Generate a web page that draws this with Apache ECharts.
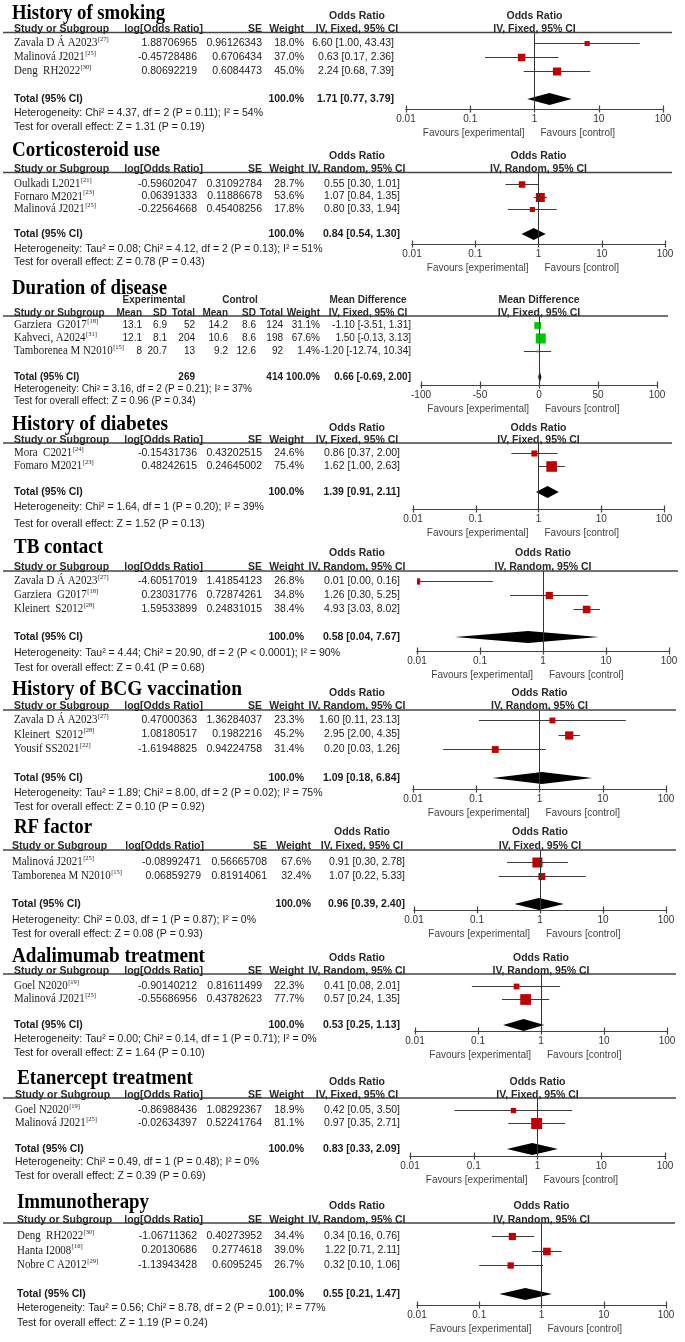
<!DOCTYPE html>
<html><head><meta charset="utf-8">
<script src="https://cdn.jsdelivr.net/npm/echarts@6/dist/echarts.min.js"></script>
<style>html,body{margin:0;padding:0;background:#fff}#c{width:685px;height:1342px}</style>
</head><body><div id="c"></div>
<script>
// ---------- DATA ----------
const smokingStudies = ['Zavala D Á A2023', 'Malinová J2021', 'Deng  RH2022'];
const smokingRefs = ['27', '25', '30'];
const smokingLogOR = [1.88706965, -0.45728486, 0.80692219];
const smokingSE = [0.96126343, 0.6706434, 0.6084473];
const smokingWeight = [18.0, 37.0, 45.0];
const smokingOR = [6.60, 0.63, 2.24];
const smokingLo = [1.00, 0.17, 0.68];
const smokingHi = [43.43, 2.36, 7.39];
const smokingTotal = [1.71, 0.77, 3.79];
const smokingHet = 'Heterogeneity: Chi² = 4.37, df = 2 (P = 0.11); I² = 54%';
const smokingTest = 'Test for overall effect: Z = 1.31 (P = 0.19)';

const corticoStudies = ['Oulkadi L2021', 'Fornaro M2021', 'Malinová J2021'];
const corticoRefs = ['21', '23', '25'];
const corticoLogOR = [-0.59602047, 0.06391333, -0.22564668];
const corticoSE = [0.31092784, 0.11886678, 0.45408256];
const corticoWeight = [28.7, 53.6, 17.8];
const corticoOR = [0.55, 1.07, 0.80];
const corticoLo = [0.30, 0.84, 0.33];
const corticoHi = [1.01, 1.35, 1.94];
const corticoTotal = [0.84, 0.54, 1.30];
const corticoHet = 'Heterogeneity: Tau² = 0.08; Chi² = 4.12, df = 2 (P = 0.13); I² = 51%';
const corticoTest = 'Test for overall effect: Z = 0.78 (P = 0.43)';

const durationStudies = ['Garziera  G2017', 'Kahveci, A2024', 'Tamborenea M N2010'];
const durationRefs = ['18', '31', '15'];
const durationExpMean = [13.1, 12.1, 8];
const durationExpSD = [6.9, 8.1, 20.7];
const durationExpN = [52, 204, 13];
const durationCtlMean = [14.2, 10.6, 9.2];
const durationCtlSD = [8.6, 8.6, 12.6];
const durationCtlN = [124, 198, 92];
const durationWeight = [31.1, 67.6, 1.4];
const durationMD = [-1.10, 1.50, -1.20];
const durationLo = [-3.51, -0.13, -12.74];
const durationHi = [1.31, 3.13, 10.34];
const durationTotal = [0.66, -0.69, 2.00];
const durationTotalN = [269, 414];
const durationHet = 'Heterogeneity: Chi² = 3.16, df = 2 (P = 0.21); I² = 37%';
const durationTest = 'Test for overall effect: Z = 0.96 (P = 0.34)';
const durationTicks = [-100, -50, 0, 50, 100];

const diabetesStudies = ['Mora  C2021', 'Fomaro M2021'];
const diabetesRefs = ['24', '23'];
const diabetesLogOR = [-0.15431736, 0.48242615];
const diabetesSE = [0.43202515, 0.24645002];
const diabetesWeight = [24.6, 75.4];
const diabetesOR = [0.86, 1.62];
const diabetesLo = [0.37, 1.00];
const diabetesHi = [2.00, 2.63];
const diabetesTotal = [1.39, 0.91, 2.11];
const diabetesHet = 'Heterogeneity: Chi² = 1.64, df = 1 (P = 0.20); I² = 39%';
const diabetesTest = 'Test for overall effect: Z = 1.52 (P = 0.13)';

const tbStudies = ['Zavala D Á A2023', 'Garziera  G2017', 'Kleinert  S2012'];
const tbRefs = ['27', '18', '28'];
const tbLogOR = [-4.60517019, 0.23031776, 1.59533899];
const tbSE = [1.41854123, 0.72874261, 0.24831015];
const tbWeight = [26.8, 34.8, 38.4];
const tbOR = [0.01, 1.26, 4.93];
const tbLo = [0.0006, 0.30, 3.03];
const tbHi = [0.16, 5.25, 8.02];
const tbTotal = [0.58, 0.04, 7.67];
const tbHet = 'Heterogeneity: Tau² = 4.44; Chi² = 20.90, df = 2 (P < 0.0001); I² = 90%';
const tbTest = 'Test for overall effect: Z = 0.41 (P = 0.68)';

const bcgStudies = ['Zavala D Á A2023', 'Kleinert  S2012', 'Yousif SS2021'];
const bcgRefs = ['27', '28', '22'];
const bcgLogOR = [0.47000363, 1.08180517, -1.61948825];
const bcgSE = [1.36284037, 0.1982216, 0.94224758];
const bcgWeight = [23.3, 45.2, 31.4];
const bcgOR = [1.60, 2.95, 0.20];
const bcgLo = [0.11, 2.00, 0.03];
const bcgHi = [23.13, 4.35, 1.26];
const bcgTotal = [1.09, 0.18, 6.84];
const bcgHet = 'Heterogeneity: Tau² = 1.89; Chi² = 8.00, df = 2 (P = 0.02); I² = 75%';
const bcgTest = 'Test for overall effect: Z = 0.10 (P = 0.92)';

const rfStudies = ['Malinová J2021', 'Tamborenea M N2010'];
const rfRefs = ['25', '15'];
const rfLogOR = [-0.08992471, 0.06859279];
const rfSE = [0.56665708, 0.81914061];
const rfWeight = [67.6, 32.4];
const rfOR = [0.91, 1.07];
const rfLo = [0.30, 0.22];
const rfHi = [2.78, 5.33];
const rfTotal = [0.96, 0.39, 2.40];
const rfHet = 'Heterogeneity: Chi² = 0.03, df = 1 (P = 0.87); I² = 0%';
const rfTest = 'Test for overall effect: Z = 0.08 (P = 0.93)';

const adaStudies = ['Goel N2020', 'Malinová J2021'];
const adaRefs = ['19', '25'];
const adaLogOR = [-0.90140212, -0.55686956];
const adaSE = [0.81611499, 0.43782623];
const adaWeight = [22.3, 77.7];
const adaOR = [0.41, 0.57];
const adaLo = [0.08, 0.24];
const adaHi = [2.01, 1.35];
const adaTotal = [0.53, 0.25, 1.13];
const adaHet = 'Heterogeneity: Tau² = 0.00; Chi² = 0.14, df = 1 (P = 0.71); I² = 0%';
const adaTest = 'Test for overall effect: Z = 1.64 (P = 0.10)';

const etaStudies = ['Goel N2020', 'Malinová J2021'];
const etaRefs = ['19', '25'];
const etaLogOR = [-0.86988436, -0.02634397];
const etaSE = [1.08292367, 0.52241764];
const etaWeight = [18.9, 81.1];
const etaOR = [0.42, 0.97];
const etaLo = [0.05, 0.35];
const etaHi = [3.50, 2.71];
const etaTotal = [0.83, 0.33, 2.09];
const etaHet = 'Heterogeneity: Chi² = 0.49, df = 1 (P = 0.48); I² = 0%';
const etaTest = 'Test for overall effect: Z = 0.39 (P = 0.69)';

const immStudies = ['Deng  RH2022', 'Hanta I2008', 'Nobre C A2012'];
const immRefs = ['30', '16', '29'];
const immLogOR = [-1.06711362, 0.20130686, -1.13943428];
const immSE = [0.40273952, 0.2774618, 0.6095245];
const immWeight = [34.4, 39.0, 26.7];
const immOR = [0.34, 1.22, 0.32];
const immLo = [0.16, 0.71, 0.10];
const immHi = [0.76, 2.11, 1.06];
const immTotal = [0.55, 0.21, 1.47];
const immHet = 'Heterogeneity: Tau² = 0.56; Chi² = 8.78, df = 2 (P = 0.01); I² = 77%';
const immTest = 'Test for overall effect: Z = 1.19 (P = 0.24)';

const orTicks = [0.01, 0.1, 1, 10, 100];

// ---------- PANELS ----------
const panels = [
  {kind:'or', title:'History of smoking', studies:smokingStudies, refs:smokingRefs, a:smokingLogOR, b:smokingSE, weight:smokingWeight, est:smokingOR, lo:smokingLo, hi:smokingHi, total:smokingTotal, method:'IV, Fixed, 95% CI', het:smokingHet, test:smokingTest},
  {kind:'or', title:'Corticosteroid use', studies:corticoStudies, refs:corticoRefs, a:corticoLogOR, b:corticoSE, weight:corticoWeight, est:corticoOR, lo:corticoLo, hi:corticoHi, total:corticoTotal, method:'IV, Random, 95% CI', het:corticoHet, test:corticoTest},
  {kind:'md', title:'Duration of disease', studies:durationStudies, refs:durationRefs, weight:durationWeight, est:durationMD, lo:durationLo, hi:durationHi, total:durationTotal, method:'IV, Fixed, 95% CI', het:durationHet, test:durationTest},
  {kind:'or', title:'History of diabetes', studies:diabetesStudies, refs:diabetesRefs, a:diabetesLogOR, b:diabetesSE, weight:diabetesWeight, est:diabetesOR, lo:diabetesLo, hi:diabetesHi, total:diabetesTotal, method:'IV, Fixed, 95% CI', het:diabetesHet, test:diabetesTest},
  {kind:'or', title:'TB contact', studies:tbStudies, refs:tbRefs, a:tbLogOR, b:tbSE, weight:tbWeight, est:tbOR, lo:tbLo, hi:tbHi, total:tbTotal, method:'IV, Random, 95% CI', het:tbHet, test:tbTest},
  {kind:'or', title:'History of BCG vaccination', studies:bcgStudies, refs:bcgRefs, a:bcgLogOR, b:bcgSE, weight:bcgWeight, est:bcgOR, lo:bcgLo, hi:bcgHi, total:bcgTotal, method:'IV, Random, 95% CI', het:bcgHet, test:bcgTest},
  {kind:'or', title:'RF factor', studies:rfStudies, refs:rfRefs, a:rfLogOR, b:rfSE, weight:rfWeight, est:rfOR, lo:rfLo, hi:rfHi, total:rfTotal, method:'IV, Fixed, 95% CI', het:rfHet, test:rfTest},
  {kind:'or', title:'Adalimumab treatment', studies:adaStudies, refs:adaRefs, a:adaLogOR, b:adaSE, weight:adaWeight, est:adaOR, lo:adaLo, hi:adaHi, total:adaTotal, method:'IV, Random, 95% CI', het:adaHet, test:adaTest},
  {kind:'or', title:'Etanercept treatment', studies:etaStudies, refs:etaRefs, a:etaLogOR, b:etaSE, weight:etaWeight, est:etaOR, lo:etaLo, hi:etaHi, total:etaTotal, method:'IV, Fixed, 95% CI', het:etaHet, test:etaTest},
  {kind:'or', title:'Immunotherapy', studies:immStudies, refs:immRefs, a:immLogOR, b:immSE, weight:immWeight, est:immOR, lo:immLo, hi:immHi, total:immTotal, method:'IV, Random, 95% CI', het:immHet, test:immTest}
];

// ---------- LAYOUT (pixel positions) ----------
const layouts = [
  {title:13,  tx:12, tw:153, oh:16,   h:29,   line:32.5, lr:672, r0:43,   step:14,   het:113,  test:127,  axis:109,  x0:406, x1:663, nx:14},
  {title:150, tx:12, tw:148, oh:156,  h:169,  line:172.5,lr:672, r0:184,  step:12.5, het:249,  test:262,  axis:244,  x0:412, x1:665, nx:14},
  {title:288, tx:12, tw:155, oh:300,  h:313,  line:316,  lr:668, r0:325,  step:13,   het:389,  test:401,  axis:385,  x0:421, x1:657, nx:14},
  {title:424, tx:12, tw:156, oh:428,  h:440,  line:443,  lr:672, r0:453,  step:13,   het:507,  test:524,  axis:509,  x0:413, x1:664, nx:14},
  {title:547, tx:14, tw:89,  oh:553,  h:567,  line:571,  lr:678, r0:581,  step:14,   het:653,  test:668,  axis:651,  x0:417, x1:669, nx:14},
  {title:689, tx:12, tw:230, oh:693,  h:706,  line:710,  lr:676, r0:720,  step:14.5, het:793,  test:807,  axis:789,  x0:413, x1:666, nx:14},
  {title:827, tx:14, tw:78,  oh:832,  h:846,  line:850,  lr:676, r0:862,  step:14,   het:920,  test:934,  axis:910,  x0:414, x1:666, nx:12},
  {title:956, tx:12, tw:193, oh:958,  h:971,  line:974,  lr:676, r0:986,  step:13,   het:1039, test:1053, axis:1031, x0:415, x1:667, nx:14},
  {title:1078,tx:17, tw:176, oh:1082, h:1095, line:1098, lr:676, r0:1110, step:13,   het:1162, test:1176, axis:1156, x0:410, x1:665, nx:15},
  {title:1202,tx:17, tw:132, oh:1206, h:1220, line:1223, lr:675, r0:1236, step:14.5, het:1308, test:1323, axis:1305, x0:417, x1:666, nx:17}
];
const orCols = {c1:197, c1h:203, c2:262, c3:304, c4r:400, c4c:357};
const rfCols = {c1:201, c1h:204, c2:267, c3:311, c4r:405, c4c:362};
const mdCols = {m1:142, s1:167, n1:195, m2:228, s2:256, n2:283, w:320, ci:411, cic:368, expc:154, ctlc:240};

// ---------- HELPERS ----------
const W = 685;
const SANS = '"Liberation Sans", Arial, sans-serif';
const SERIF = '"Liberation Serif", "Times New Roman", serif';
const mctx = document.createElement('canvas').getContext('2d');
function measure(text, font) { mctx.font = font; return mctx.measureText(text).width; }
const g = [];
function addText(x, y, text, o) {
  o = o || {};
  const fs = o.fs || 10.5, fw = o.fw || 'normal', ff = o.ff || SANS;
  let sx = o.sx || 1;
  if (o.fitW) sx = o.fitW / measure(text, fw + ' ' + fs + 'px ' + ff);
  g.push({type:'text', x:x, y:y, scaleX:sx, silent:true, z:10,
    style:{text:text, fontFamily:ff, fontSize:fs, fontWeight:fw, fill:o.c || '#1a1a1a', align:o.al || 'left', verticalAlign:'middle'}});
  return measure(text, fw + ' ' + fs + 'px ' + ff) * sx;
}
function addLine(x1, y, x2, w, c) {
  g.push({type:'line', silent:true, z:9, shape:{x1:x1, y1:y, x2:x2, y2:y}, style:{stroke:c || '#444', lineWidth:w || 1.4}});
}
const f2 = v => v.toFixed(2);
const ciText = (e, l, h) => f2(e) + ' [' + f2(l) + ', ' + f2(h) + ']';
const pct = v => v.toFixed(1) + '%';

// ---------- TEXT ----------
panels.forEach((p, i) => {
  const L = layouts[i];
  const n = p.studies.length;
  const rowY = k => L.r0 + k * L.step;
  const totY = L.r0 + (n + 1) * L.step;
  addText(L.tx, L.title, p.title, {ff:SERIF, fs:22, fw:'bold', c:'#000', fitW:L.tw});
  const hb = {fw:'bold', fs:10.5, c:'#2a2a2a'};
  if (p.kind === 'or') {
    const C = (i === 6) ? rfCols : orCols;
    addText(C.c4c, L.oh, 'Odds Ratio', Object.assign({al:'center'}, hb));
    addText(L.nx, L.h, 'Study or Subgroup', hb);
    addText(C.c1h, L.h, 'log[Odds Ratio]', Object.assign({al:'right'}, hb));
    addText(C.c2, L.h, 'SE', Object.assign({al:'right'}, hb));
    addText(C.c3, L.h, 'Weight', Object.assign({al:'right'}, hb));
    addText(C.c4c, L.h, p.method, Object.assign({al:'center'}, hb));
    const c4r = (i === 0) ? 394 : C.c4r;
    p.studies.forEach((s, k) => {
      const y = rowY(k);
      addText(C.c1, y, String(p.a[k]), {al:'right'});
      addText(C.c2, y, String(p.b[k]), {al:'right'});
      addText(C.c3, y, pct(p.weight[k]), {al:'right'});
      addText(c4r, y, ciText(p.est[k], p.lo[k], p.hi[k]), {al:'right'});
    });
    addText(C.c3, totY, '100.0%', {al:'right', fw:'bold'});
    addText(c4r, totY, ciText(p.total[0], p.total[1], p.total[2]), {al:'right', fw:'bold'});
  } else {
    const C = mdCols;
    const hs = {fw:'bold', fs:10, c:'#2a2a2a'};
    addText(C.expc, L.oh, 'Experimental', Object.assign({al:'center'}, hs));
    addText(C.ctlc, L.oh, 'Control', Object.assign({al:'center'}, hs));
    addText(C.cic, L.oh, 'Mean Difference', Object.assign({al:'center'}, hs));
    addText(L.nx, L.h, 'Study or Subgroup', hs);
    [['Mean', C.m1], ['SD', C.s1], ['Total', C.n1], ['Mean', C.m2], ['SD', C.s2], ['Total', C.n2], ['Weight', C.w]].forEach(t => addText(t[1], L.h, t[0], Object.assign({al:'right'}, hs)));
    addText(C.cic, L.h, p.method, Object.assign({al:'center'}, hs));
    p.studies.forEach((s, k) => {
      const y = rowY(k);
      const o = {al:'right', fs:10};
      addText(C.m1, y, String(durationExpMean[k]), o);
      addText(C.s1, y, String(durationExpSD[k]), o);
      addText(C.n1, y, String(durationExpN[k]), o);
      addText(C.m2, y, String(durationCtlMean[k]), o);
      addText(C.s2, y, String(durationCtlSD[k]), o);
      addText(C.n2, y, String(durationCtlN[k]), o);
      addText(C.w, y, pct(p.weight[k]), o);
      addText(C.ci, y, ciText(p.est[k], p.lo[k], p.hi[k]), o);
    });
    const ob = {al:'right', fw:'bold', fs:10};
    addText(C.n1, totY, String(durationTotalN[0]), ob);
    addText(C.n2, totY, String(durationTotalN[1]), ob);
    addText(C.w, totY, '100.0%', ob);
    addText(C.ci, totY, ciText(p.total[0], p.total[1], p.total[2]), ob);
  }
  // study names with superscript references
  p.studies.forEach((s, k) => {
    const y = rowY(k);
    const w = addText(L.nx, y, s, {ff:SERIF, fs:13, sx:0.84, c:'#1a1a1a'});
    addText(L.nx + w + 0.5, y - 4, '[' + p.refs[k] + ']', {ff:SERIF, fs:6.5, c:'#1a1a1a'});
  });
  const small = p.kind === 'md' ? 10 : 10.5;
  addText(L.nx, totY, 'Total (95% CI)', {fw:'bold', fs:small});
  addText(L.nx, L.het, p.het, {fs:small});
  addText(L.nx, L.test, p.test, {fs:small});
  // plot headers & favours
  const pc = (L.x0 + L.x1) / 2;
  addText(pc, L.oh, p.kind === 'or' ? 'Odds Ratio' : 'Mean Difference', Object.assign({al:'center'}, hb));
  addText(pc, L.h, p.method, Object.assign({al:'center'}, hb));
  addText(pc - 10, L.axis + 24, 'Favours [experimental]', {al:'right', fs:10, c:'#444'});
  addText(pc + 6, L.axis + 24, 'Favours [control]', {fs:10, c:'#444'});
  addLine(3, L.line, L.lr, 1.5, '#444');
});

// ---------- CHART ----------
function studyRenderer(color) {
  return function (params, api) {
    const est = api.value(0), lo = api.value(1), hi = api.value(2), row = api.value(3), w = api.value(4);
    const pe = api.coord([est, row]), pl = api.coord([lo, row]), ph = api.coord([hi, row]);
    const s = Math.max(2, 1.22 * Math.sqrt(w));
    const yc = Math.round(pe[1]) + 0.5;
    return {type:'group', children:[
      {type:'line', shape:{x1:pl[0], y1:yc, x2:ph[0], y2:yc}, style:{stroke:'#3a3a3a', lineWidth:1}},
      {type:'rect', shape:{x:pe[0] - s / 2, y:yc - s / 2, width:s, height:s}, style:{fill:color}}
    ]};
  };
}
function diamondRenderer(params, api) {
  const est = api.value(0), lo = api.value(1), hi = api.value(2), row = api.value(3);
  const pe = api.coord([est, row]), pl = api.coord([lo, row]), ph = api.coord([hi, row]);
  const h = 6;
  return {type:'polygon', shape:{points:[[pl[0], pe[1]], [pe[0], pe[1] - h], [ph[0], pe[1]], [pe[0], pe[1] + h]]}, style:{fill:'#000'}};
}
const tickFmt = v => v < 1 ? String(Number(v.toPrecision(1))) : String(Math.round(v));

const grids = [], xAxes = [], yAxes = [], series = [];
panels.forEach((p, i) => {
  const L = layouts[i];
  const n = p.studies.length;
  grids.push({left:L.x0, right:W - L.x1, top:L.line, height:L.axis - L.line, containLabel:false});
  const isOR = p.kind === 'or';
  const base = isOR
    ? {type:'log', logBase:10, min:orTicks[0], max:orTicks[orTicks.length - 1]}
    : {type:'value', min:durationTicks[0], max:durationTicks[durationTicks.length - 1], interval:durationTicks[1] - durationTicks[0]};
  const ax = {color:'#444', width:1.2};
  xAxes.push(Object.assign({gridIndex:i, position:'bottom',
    axisLine:{show:true, onZero:false, lineStyle:ax}, axisTick:{show:true, length:3.5, lineStyle:ax},
    axisLabel:{show:true, fontSize:10, color:'#333', fontFamily:SANS, margin:5, showMinLabel:true, showMaxLabel:true, formatter: isOR ? tickFmt : undefined},
    splitLine:{show:false}}, base));
  xAxes.push(Object.assign({gridIndex:i, position:'bottom',
    axisLine:{show:true, onZero:false, lineStyle:ax}, axisTick:{show:true, inside:true, length:3.5, lineStyle:ax},
    axisLabel:{show:false}, splitLine:{show:false}}, base));
  yAxes.push({gridIndex:i, type:'value', inverse:true, show:false,
    min:-(L.r0 - L.line) / L.step, max:(L.axis - L.r0) / L.step});
  series.push({
    type:'custom', xAxisIndex:2 * i, yAxisIndex:i, clip:true, silent:true,
    renderItem: studyRenderer(isOR ? '#c00000' : '#00c800'),
    encode:{x:[0, 1, 2], y:3},
    data: p.est.map((v, k) => [v, p.lo[k], p.hi[k], k, p.weight[k]]),
    markLine:{silent:true, symbol:['none', 'none'], label:{show:false}, animation:false,
      lineStyle:{color:'#333', width:1, type:'solid'}, data:[{xAxis: isOR ? 1 : 0}]}
  });
  series.push({
    type:'custom', xAxisIndex:2 * i, yAxisIndex:i, silent:true,
    renderItem: diamondRenderer, encode:{x:[0, 1, 2], y:3},
    data:[[p.total[0], p.total[1], p.total[2], n + 1]]
  });
});

const chart = echarts.init(document.getElementById('c'), null, {renderer:'canvas'});
chart.setOption({animation:false, backgroundColor:'#fff', grid:grids, xAxis:xAxes, yAxis:yAxes, series:series, graphic:g});
</script></body></html>
